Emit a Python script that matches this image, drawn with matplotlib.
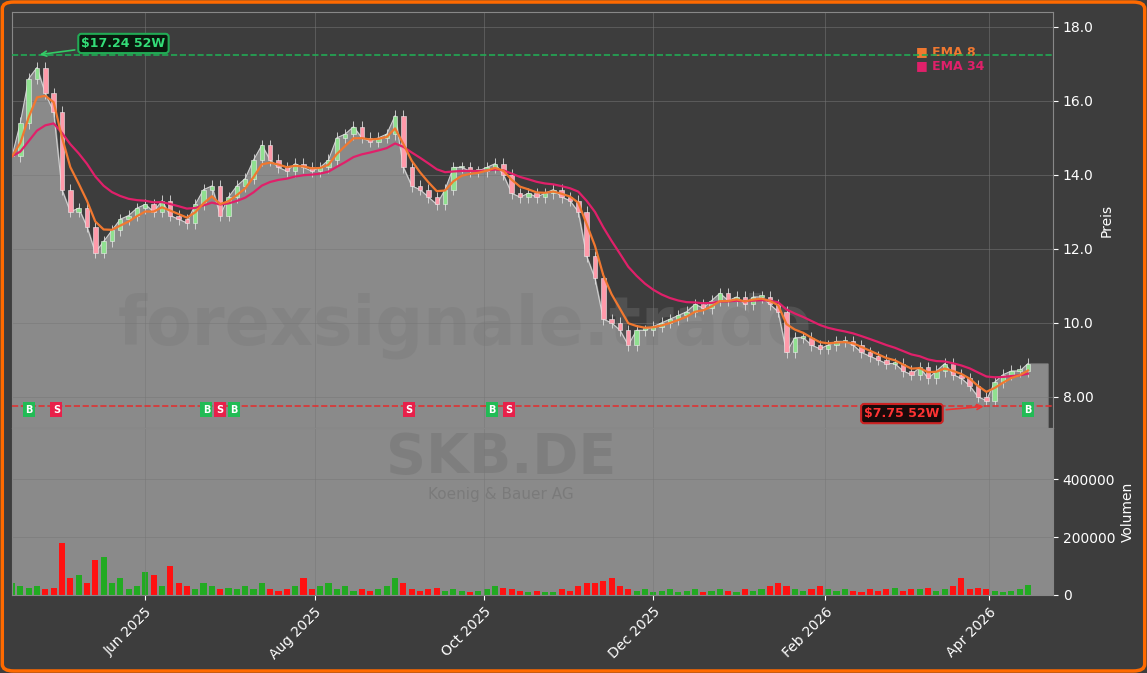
import matplotlib
matplotlib.use("Agg")
import matplotlib.pyplot as plt
import matplotlib.dates as mdates
from matplotlib.patches import FancyBboxPatch
import numpy as np
import pandas as pd

closes = [14.5,15.4,16.6,16.9,16.2,15.7,13.6,13.0,13.1,12.6,11.9,12.2,12.5,12.8,12.9,13.1,13.2,13.0,13.3,12.9,
          12.8,12.7,13.2,13.6,13.7,12.9,13.4,13.7,13.9,14.4,14.8,14.4,14.2,14.1,14.3,14.2,14.1,14.2,14.4,15.0,
          15.1,15.3,15.0,14.9,15.0,15.1,15.6,14.2,13.7,13.6,13.4,13.2,13.6,14.2,14.2,14.1,14.1,14.2,14.3,14.0,
          13.5,13.4,13.5,13.4,13.5,13.6,13.4,13.3,13.0,11.8,11.2,10.1,10.0,9.8,9.4,9.8,9.8,9.9,10.0,10.1,
          10.2,10.3,10.5,10.4,10.6,10.8,10.6,10.7,10.5,10.7,10.7,10.5,10.3,9.2,9.6,9.6,9.4,9.3,9.4,9.5,
          9.5,9.4,9.2,9.1,9.0,8.9,8.9,8.7,8.6,8.8,8.5,8.7,8.9,8.6,8.5,8.3,8.0,7.9,8.4,8.6,
          8.7,8.7,8.9]
volumes = [40,30,25,30,20,25,180,60,70,40,120,130,40,60,20,30,80,70,30,100,
           40,30,20,40,30,20,25,20,30,20,40,20,15,20,30,60,20,30,40,20,
           30,15,20,15,20,30,60,40,20,15,20,25,15,20,15,10,15,20,30,25,
           20,15,10,15,12,10,20,15,30,40,40,50,60,30,20,15,20,10,15,20,
           10,15,20,10,15,20,15,10,20,15,20,30,40,30,20,15,20,30,20,15,
           20,15,10,20,15,20,25,15,20,20,25,15,20,30,60,20,25,20,15,10,
           15,20,35]
volumes = [v*1000 for v in volumes]
dates = pd.date_range("2025-04-14", periods=len(closes), freq="3D")
signals = [("B","2025-04-20"),("S","2025-04-30"),("B","2025-06-23"),("S","2025-06-28"),("B","2025-07-03"),
           ("S","2025-09-04"),("B","2025-10-04"),("S","2025-10-10"),("B","2026-04-15")]
high52, low52 = 17.24, 7.75

BG = "#3d3d3d"; GRAY = "#8a8a8a"; ORANGE = "#f07830"; CRIMSON = "#e0206a"
s = pd.Series(closes, index=dates)
ema8 = s.ewm(span=4, adjust=False).mean()
ema34 = s.ewm(span=13, adjust=False).mean()
opens = [closes[0]] + closes[:-1]

fig = plt.figure(figsize=(11.47, 6.73), dpi=100, facecolor=BG)
W, H = 1147, 673
ax = fig.add_axes([12/W, 1-428/H, 1041/W, 416/H], facecolor=BG)
axv = fig.add_axes([12/W, 1-595/H, 1041/W, 167/H], facecolor=GRAY, sharex=ax)

xend = pd.Timestamp("2026-04-24")
ax.fill_between(list(dates)+[pd.Timestamp("2026-04-22")], list(closes)+[closes[-1]], 0, color=GRAY, zorder=1)
ax.plot(dates, closes, color="#d0d0d0", lw=0.8, zorder=2)
for d, o, c in zip(dates, opens, closes):
    col = "#90e090" if c >= o else "#ff9aaa"
    lo, hi = min(o, c), max(o, c)
    ax.bar(d, max(hi-lo, 0.05), bottom=lo, width=1.6, color=col, edgecolor="#eeeeee", lw=0.4, zorder=3)
    ax.vlines(d, lo-0.15, hi+0.15, color="#dddddd", lw=0.6, zorder=2.5)
ax.plot(dates, ema34, color=CRIMSON, lw=1.6, zorder=4)
ax.plot(dates, ema8, color=ORANGE, lw=1.6, zorder=5)
ax.axhline(high52, color="#22aa55", ls="--", lw=1.2, zorder=4)
ax.axhline(low52, color="#dd3333", ls="--", lw=1.2, zorder=4)

ax.annotate(f"${high52:.2f} 52W", xy=(dates[3], high52), xytext=(pd.Timestamp("2025-05-09"), 17.55),
            color="#33dd77", fontsize=9, fontweight="bold", va="center",
            bbox=dict(boxstyle="round,pad=0.25", fc="#0a1a0e", ec="#22aa55", lw=1.5),
            arrowprops=dict(arrowstyle="->", color="#33cc66", lw=1.2), zorder=6)
ax.annotate(f"${low52:.2f} 52W", xy=(dates[117], low52), xytext=(pd.Timestamp("2026-02-15"), 7.55),
            color="#ff3333", fontsize=9, fontweight="bold", va="center",
            bbox=dict(boxstyle="round,pad=0.25", fc="#1a0a0a", ec="#cc2222", lw=1.5),
            arrowprops=dict(arrowstyle="->", color="#ee3333", lw=1.2), zorder=6)

for t, d in signals:
    ax.text(pd.Timestamp(d), 7.65, t, color="white", fontsize=7, fontweight="bold", ha="center", va="center",
            bbox=dict(boxstyle="square,pad=0.25", fc="#22bb55" if t == "B" else "#e8204a", ec="none"), zorder=7)

ax.text(0.435, 0.245, "forexsignale.trade", transform=ax.transAxes, fontsize=48, fontweight="bold",
        color="#777777", alpha=0.35, ha="center", va="center", zorder=1.5)
axv.text(0.47, 0.82, "SKB.DE", transform=axv.transAxes, fontsize=40, fontweight="bold",
         color="#777777", alpha=0.6, ha="center", va="center")
axv.text(0.47, 0.6, "Koenig & Bauer AG", transform=axv.transAxes, fontsize=11,
         color="#777777", alpha=0.8, ha="center", va="center")

ax.text(0.868, 0.897, "■ EMA 8", transform=ax.transAxes, color=ORANGE, fontsize=9, fontweight="bold")
ax.text(0.868, 0.862, "■ EMA 34", transform=ax.transAxes, color=CRIMSON, fontsize=9, fontweight="bold")

vcols = ["#22aa22" if c >= o else "#ff1111" for o, c in zip(opens, closes)]
axv.bar(dates, volumes, width=2.2, color=vcols)

ax.set_ylim(7.16, 18.4)
axv.set_ylim(0, 576000)
ax.set_xlim(pd.Timestamp("2025-04-14"), xend)
for a in (ax, axv):
    a.yaxis.tick_right(); a.yaxis.set_label_position("right")
    a.tick_params(colors="white", labelsize=10)
    a.grid(True, color="#777777", lw=0.6, alpha=0.6)
    for sp in a.spines.values():
        sp.set_color("#888888")
ax.set_yticks([8, 10, 12, 14, 16, 18])
ax.set_yticklabels(["8.00", "10.0", "12.0", "14.0", "16.0", "18.0"])
axv.set_yticks([0, 200000, 400000])
ax.set_ylabel("Preis", color="white", fontsize=10)
axv.set_ylabel("Volumen", color="white", fontsize=10)
ax.tick_params(axis="x", labelbottom=False, length=0)
axv.xaxis.set_major_locator(mdates.MonthLocator(bymonth=[6, 8, 10, 12, 2, 4]))
axv.xaxis.set_major_formatter(mdates.DateFormatter("%b %Y"))
plt.setp(axv.get_xticklabels(), rotation=45, ha="right", rotation_mode="anchor")

fig.patches.append(FancyBboxPatch((0.002, 0.003), 0.996, 0.994, boxstyle="round,pad=0,rounding_size=0.01",
                                  transform=fig.transFigure, fill=False, ec="#ff6a00", lw=2.5))
fig.savefig("out.png", dpi=100, facecolor=BG)
